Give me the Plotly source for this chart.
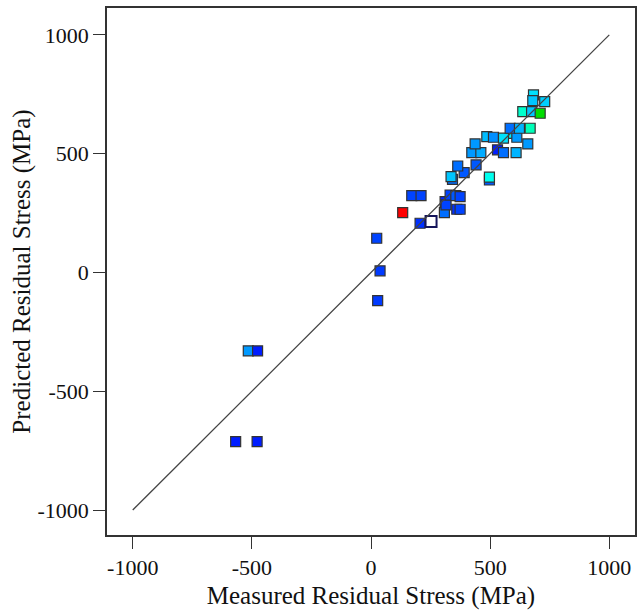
import plotly.graph_objects as go

# Measured vs. predicted residual stress (MPa) and the factor level used for colouring
measured = [-515, -476, -568, -478, 24, 38, 28, 133, 171, 210, 206, 308, 311, 315,
            332, 356, 360, 374, 374, 342, 336, 391, 364, 441, 423, 461, 437, 590,
            486, 514, 531, 556, 556, 609, 612, 658, 497, 497, 584, 623, 668, 637,
            674, 710, 682, 679, 729]
predicted = [-330, -330, -712, -712, 144, 7, -119, 252, 323, 323, 207, 252, 298, 284,
             326, 323, 266, 266, 319, 392, 403, 420, 448, 453, 504, 504, 541, 585,
             572, 569, 516, 504, 565, 504, 569, 541, 389, 401, 607, 607, 607, 677,
             677, 670, 747, 723, 719]
factor_level = [0.30, 0.06, 0.06, 0.06, 0.14, 0.12, 0.12, 1.00, 0.14, 0.14, 0.10, 0.22,
                0.08, 0.14, 0.14, 0.18, 0.10, 0.14, 0.14, 0.22, 0.40, 0.18, 0.22, 0.18,
                0.30, 0.34, 0.30, 0.50, 0.38, 0.28, 0.06, 0.22, 0.46, 0.36, 0.30, 0.30,
                0.18, 0.55, 0.22, 0.36, 0.63, 0.60, 0.40, 0.78, 0.46, 0.40, 0.42]

# Highlighted run (open marker)
highlight_measured = [252]
highlight_predicted = [214]

# Reference line y = x
ref_line = [-1000, 1000]

tick_vals = [-1000, -500, 0, 500, 1000]
tick_text = ["-1000", "-500", "0", "500", "1000"]

colorscale = [
    [0.00, "#0000ff"], [0.15, "#0048ff"], [0.30, "#0099ff"], [0.45, "#00ddff"],
    [0.55, "#00ffee"], [0.65, "#00ffaa"], [0.78, "#00dd00"], [0.90, "#ffff00"],
    [1.00, "#ff0000"],
]

font_family = "Liberation Serif, Times New Roman, serif"

fig = go.Figure()

fig.add_trace(go.Scatter(
    x=measured, y=predicted, mode="markers",
    marker=dict(symbol="square", size=10, color=factor_level, colorscale=colorscale,
                cmin=0, cmax=1, showscale=False,
                line=dict(color="#333333", width=1.2)),
    hoverinfo="x+y", showlegend=False,
))

fig.add_trace(go.Scatter(
    x=highlight_measured, y=highlight_predicted, mode="markers",
    marker=dict(symbol="square", size=11, color="#ffffff",
                line=dict(color="#14145a", width=2)),
    showlegend=False,
))

fig.add_trace(go.Scatter(
    x=ref_line, y=ref_line, mode="lines",
    line=dict(color="#444444", width=1.3), hoverinfo="skip", showlegend=False,
))

axis_common = dict(
    tickmode="array", tickvals=tick_vals, ticktext=tick_text,
    ticks="outside", ticklen=12, tickwidth=1.3, tickcolor="#333333",
    showline=True, linecolor="#333333", linewidth=1.5, mirror=True,
    showgrid=False, zeroline=False,
    tickfont=dict(family=font_family, size=22, color="#111111"),
)

fig.update_xaxes(
    range=[-1108, 1108],
    title=dict(text="Measured Residual Stress (MPa)", standoff=7,
               font=dict(family=font_family, size=25, color="#111111")),
    **axis_common,
)
fig.update_yaxes(
    range=[-1105, 1113],
    title=dict(text="Predicted Residual Stress (MPa)", standoff=0,
               font=dict(family=font_family, size=25, color="#111111")),
    **axis_common,
)

fig.update_layout(
    width=643, height=613,
    margin=dict(l=107, r=8, t=8, b=78, autoexpand=False),
    paper_bgcolor="white", plot_bgcolor="white",
)

fig.write_html("out.html")
